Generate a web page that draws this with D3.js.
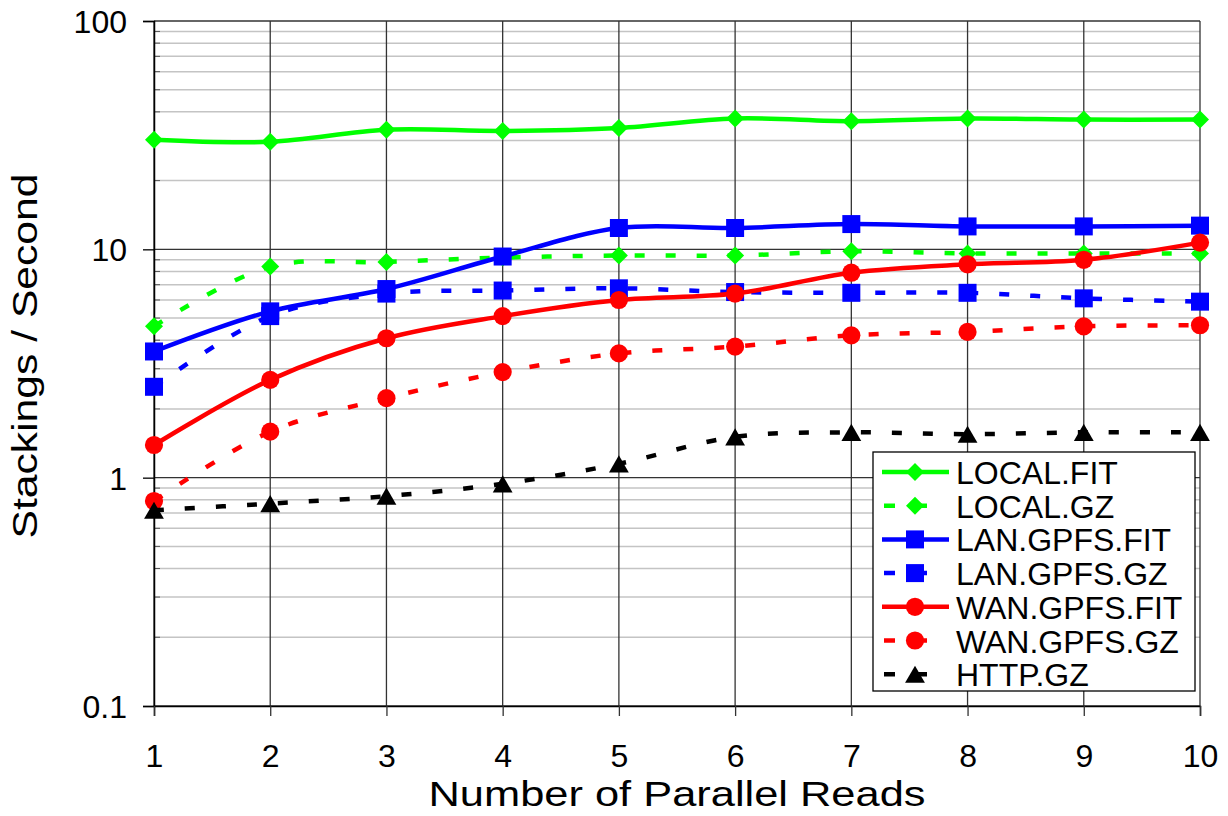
<!DOCTYPE html>
<html>
<head>
<meta charset="utf-8">
<script src="https://cdn.jsdelivr.net/npm/d3@7"></script>
<style>
  body { margin: 0; background: #fff; }
  text { font-family: Arial, "Liberation Sans", sans-serif; fill: #000; }
</style>
</head>
<body>
<div id="chart"></div>
<script>
// values (stackings per second)
const reads = [1, 2, 3, 4, 5, 6, 7, 8, 9, 10]
const localFit = [30.2, 29.6, 33.4, 33.0, 34.0, 37.4, 36.4, 37.4, 37.0, 37.0]
const localGz = [4.6, 8.4, 8.8, 9.2, 9.4, 9.4, 9.8, 9.6, 9.6, 9.6]
const lanFit = [3.57, 5.35, 6.7, 9.3, 12.4, 12.4, 12.9, 12.6, 12.6, 12.7]
const lanGz = [2.5, 5.1, 6.4, 6.6, 6.75, 6.5, 6.45, 6.45, 6.1, 5.9]
const wanFit = [1.39, 2.68, 4.08, 5.1, 6.0, 6.4, 7.9, 8.6, 9.0, 10.7]
const wanGz = [0.79, 1.59, 2.23, 2.9, 3.5, 3.75, 4.2, 4.35, 4.6, 4.65]
const httpGz = [0.72, 0.77, 0.83, 0.94, 1.15, 1.51, 1.58, 1.55, 1.58, 1.58]

const seriesNames = ['LOCAL.FIT', 'LOCAL.GZ', 'LAN.GPFS.FIT', 'LAN.GPFS.GZ', 'WAN.GPFS.FIT', 'WAN.GPFS.GZ', 'HTTP.GZ']
const seriesValues = [localFit, localGz, lanFit, lanGz, wanFit, wanGz, httpGz]
const yTicks = [0.1, 1, 10, 100]

;(function () {

  const margin = { top: 21, right: 28, bottom: 110, left: 154 }

  const width = 1228 - margin.left - margin.right
  const height = 816 - margin.top - margin.bottom

  const svg = d3.select("#chart").append("svg")
      .attr("width", 1228)
      .attr("height", 816)
    .append("g")
      .attr("transform", "translate(" + margin.left + "," + margin.top + ")")

  const xPositionScale = d3.scaleLinear()
    .domain([1, 10])
    .range([0, width])

  const yPositionScale = d3.scaleLog()
    .domain([0.1, 100])
    .range([height, 0])

  const colorScale = d3.scaleOrdinal()
    .domain(seriesNames)
    .range(['#00ff00', '#00ff00', '#0000ff', '#0000ff', '#ff0000', '#ff0000', '#000000'])

  const shapeScale = d3.scaleOrdinal()
    .domain(seriesNames)
    .range(['diamond', 'diamond', 'square', 'square', 'circle', 'circle', 'triangle'])

  // dashed for the .GZ series
  const isDashed = name => name.endsWith('.GZ')

  const datapoints = seriesNames.map((name, i) => ({
    name: name,
    values: reads.map((r, j) => ({ reads: r, value: seriesValues[i][j] }))
  }))

  // minor gridlines (2..9 inside each decade)
  const minorTicks = yPositionScale.ticks().filter(d => yTicks.indexOf(d) === -1)
  svg.append("g")
    .selectAll("line")
    .data(minorTicks)
    .join("line")
    .attr("x1", 0)
    .attr("x2", width)
    .attr("y1", d => yPositionScale(d))
    .attr("y2", d => yPositionScale(d))
    .attr("stroke", "#c4c4c4")
    .attr("stroke-width", 1.5)

  // little inside ticks on the y axis
  svg.append("g")
    .selectAll("line")
    .data(minorTicks)
    .join("line")
    .attr("x1", 0)
    .attr("x2", 6)
    .attr("y1", d => yPositionScale(d))
    .attr("y2", d => yPositionScale(d))
    .attr("stroke", "#555")
    .attr("stroke-width", 1)

  // major gridlines
  svg.append("g")
    .selectAll("line")
    .data(yTicks)
    .join("line")
    .attr("x1", 0)
    .attr("x2", width)
    .attr("y1", d => yPositionScale(d))
    .attr("y2", d => yPositionScale(d))
    .attr("stroke", "#333")
    .attr("stroke-width", 1.3)

  svg.append("g")
    .selectAll("line")
    .data(reads)
    .join("line")
    .attr("x1", d => xPositionScale(d))
    .attr("x2", d => xPositionScale(d))
    .attr("y1", 0)
    .attr("y2", height)
    .attr("stroke", "#333")
    .attr("stroke-width", 1.3)

  const yAxis = d3.axisLeft(yPositionScale)
    .tickValues(yTicks)
    .tickFormat(d => String(d))
    .tickSize(11)
    .tickPadding(16)
  svg.append("g")
    .attr("class", "axis y-axis")
    .call(yAxis)
    .call(g => g.select(".domain").attr("stroke", "#000").attr("stroke-width", 1.5))
    .call(g => g.selectAll(".tick line").attr("stroke", "#000").attr("stroke-width", 1.3))
    .call(g => g.selectAll("text").attr("font-size", 32).attr("font-family", null).attr("dy", "0.36em"))

  const xAxis = d3.axisBottom(xPositionScale)
    .tickValues(reads)
    .tickSize(10)
  svg.append("g")
    .attr("class", "axis x-axis")
    .attr("transform", "translate(0," + height + ")")
    .call(xAxis)
    .call(g => g.select(".domain").attr("stroke", "#000").attr("stroke-width", 1.5))
    .call(g => g.selectAll(".tick line").attr("stroke", "#333").attr("stroke-width", 1.3))
    .call(g => g.selectAll("text").attr("font-size", 32).attr("font-family", null).attr("dy", null).attr("y", 61))

  // axis titles (they are stretched in the original)
  svg.append("text")
    .attr("x", width / 2)
    .attr("y", 806 - margin.top)
    .attr("text-anchor", "middle")
    .attr("font-size", 35)
    .attr("textLength", 497)
    .attr("lengthAdjust", "spacingAndGlyphs")
    .text("Number of Parallel Reads")

  svg.append("text")
    .attr("transform", "translate(" + (37 - margin.left) + "," + (356 - margin.top) + ") rotate(-90)")
    .attr("text-anchor", "middle")
    .attr("font-size", 35)
    .attr("textLength", 365)
    .attr("lengthAdjust", "spacingAndGlyphs")
    .text("Stackings / Second")

  function markerPath (shape) {
    if (shape === 'diamond') return d3.symbol(d3.symbolSquare, 162)()
    if (shape === 'square') return d3.symbol(d3.symbolSquare, 324)()
    if (shape === 'circle') return d3.symbol(d3.symbolCircle, 260)()
    return d3.symbol(d3.symbolTriangle, 170)()
  }

  function markerTransform (shape, x, y) {
    if (shape === 'diamond') return "translate(" + x + "," + y + ") rotate(45)"
    if (shape === 'triangle') return "translate(" + x + "," + (y + 2.9) + ")"
    return "translate(" + x + "," + y + ")"
  }

  const line = d3.line()
    .x(d => xPositionScale(d.reads))
    .y(d => yPositionScale(d.value))
    .curve(d3.curveCatmullRom)

  const series = svg.append("g")
    .selectAll("g")
    .data(datapoints)
    .join("g")

  series.append("path")
    .attr("d", d => line(d.values))
    .attr("fill", "none")
    .attr("stroke", d => colorScale(d.name))
    .attr("stroke-width", 4.5)
    .attr("stroke-dasharray", d => isDashed(d.name) ? "10,21" : null)

  series.each(function (d) {
    d3.select(this).selectAll("path.marker")
      .data(d.values)
      .join("path")
      .attr("class", "marker")
      .attr("d", markerPath(shapeScale(d.name)))
      .attr("transform", p => markerTransform(shapeScale(d.name), xPositionScale(p.reads), yPositionScale(p.value)))
      .attr("fill", colorScale(d.name))
  })

  // legend box
  const legend = svg.append("g")
    .attr("transform", "translate(" + (873 - margin.left) + "," + (452 - margin.top) + ")")

  legend.append("rect")
    .attr("width", 322)
    .attr("height", 239)
    .attr("fill", "#fff")
    .attr("stroke", "#000")
    .attr("stroke-width", 1.3)

  const items = legend.selectAll("g.item")
    .data(seriesNames)
    .join("g")
    .attr("class", "item")
    .attr("transform", (d, i) => "translate(0," + (20 + i * 33.7) + ")")

  items.append("line")
    .attr("x1", d => isDashed(d) ? 11 : 9)
    .attr("x2", d => isDashed(d) ? 54 : 76)
    .attr("stroke", d => colorScale(d))
    .attr("stroke-width", 4.5)
    .attr("stroke-dasharray", d => isDashed(d) ? "11,22" : null)

  items.append("path")
    .attr("d", d => markerPath(shapeScale(d)))
    .attr("transform", d => markerTransform(shapeScale(d), 42, 0))
    .attr("fill", d => colorScale(d))

  items.append("text")
    .attr("x", 83)
    .attr("y", 12)
    .attr("font-size", 32)
    .text(d => d)

})();
</script>
</body>
</html>
